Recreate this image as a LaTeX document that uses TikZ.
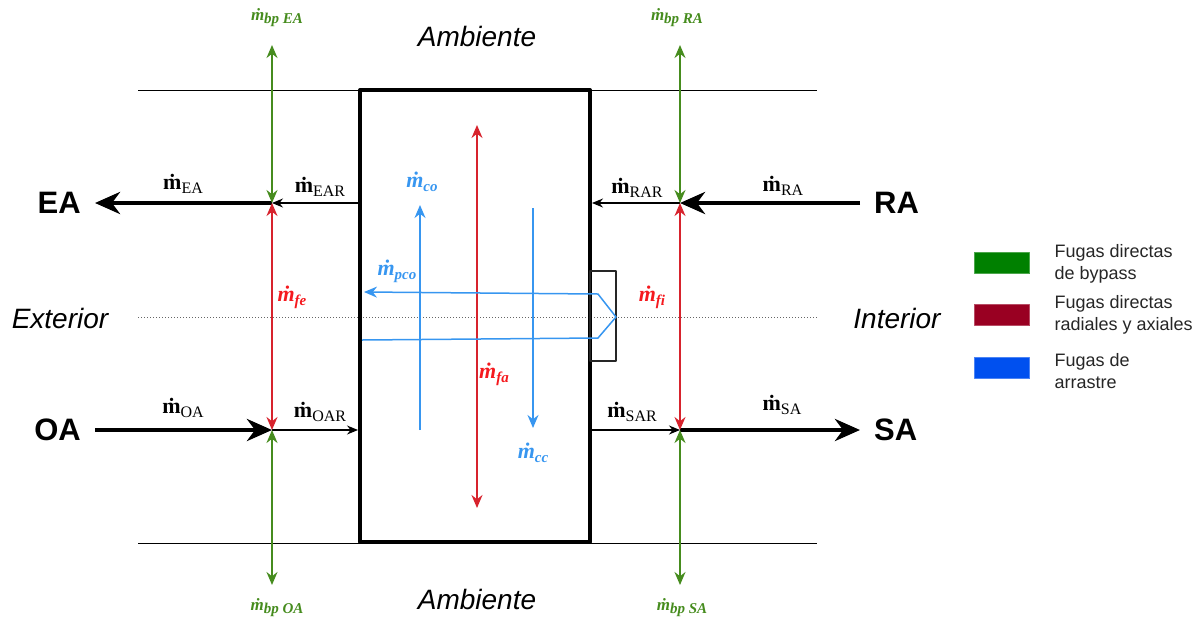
\documentclass[tikz,border=0pt]{standalone}
\usepackage{fontspec}
\setmainfont{Liberation Serif}
\setsansfont{Liberation Sans}
\usetikzlibrary{arrows.meta}
\definecolor{bpgreen}{RGB}{70,140,30}
\definecolor{lkred}{RGB}{215,35,45}
\definecolor{lkredtxt}{RGB}{245,25,30}
\definecolor{drblue}{RGB}{55,150,240}
\definecolor{leggreen}{RGB}{0,128,0}
\definecolor{legred}{RGB}{153,0,34}
\definecolor{legblue}{RGB}{0,80,239}
% mass flow with upright subscript / italic subscript
\newcommand{\mflow}[1]{\textbf{\.{m}}\raisebox{-.4ex}{\fontsize{16}{16}\selectfont #1}}
\newcommand{\mleak}[1]{\bfseries\itshape\.{m}\raisebox{-.4ex}{\fontsize{15}{15}\selectfont #1}}
\begin{document}
\begin{tikzpicture}[x=1pt, y=-1pt, line join=round, line cap=butt,
    >={Stealth[length=13pt,width=11pt]},
    port/.style={font=\fontsize{31}{31}\selectfont\sffamily\bfseries, inner xsep=14pt},
    main/.style={line width=4.5pt, -{Stealth[length=25pt,width=22pt,inset=8pt]}},
    flow/.style={line width=1.3pt, -{Stealth[length=11pt,width=9pt]}},
    bp/.style={bpgreen, line width=1.8pt, <->},
    leak/.style={lkred, line width=1.5pt, <->},
    drag/.style={drblue, line width=1.5pt, ->},
    flowlbl/.style={font=\fontsize{22}{22}\selectfont},
    zone/.style={font=\fontsize{28}{28}\selectfont\sffamily\itshape},
    legbox/.style={minimum width=55pt, minimum height=21pt, draw=#1!70!white, fill=#1},
    legtxt/.style={font=\fontsize{18}{22}\selectfont\sffamily, align=left, anchor=west, text=black!85}]
\useasboundingbox (0,0) rectangle (1202,622);

% ambient boundaries and the exterior/interior split
\draw[line width=1pt] (138,90) -- (817,90) (138,543) -- (817,543);
\draw[black!60, dotted, line width=1pt] (138,317) -- (817,317);

% rotor box and the seal on the interior side
\node[draw, line width=4pt, minimum width=230pt, minimum height=452pt, inner sep=0pt] (wheel) at (475,316) {};
\draw[black!85, line width=1.5pt] (590,271) rectangle (616,361);

% junctions
\path (272,203) coordinate(EAj) (272,430) coordinate(OAj)
      (680,203) coordinate(RAj) (680,430) coordinate(SAj)
      (272,45) coordinate(EAt) (272,585) coordinate(OAb)
      (680,45) coordinate(RAt) (680,585) coordinate(SAb);

% ports
\node[port, anchor=east] (EA) at (95,203) {EA};
\node[port, anchor=east] (OA) at (95,430) {OA};
\node[port, anchor=west] (RA) at (860,203) {RA};
\node[port, anchor=west] (SA) at (860,430) {SA};

\draw[main] (EAj) -- (EA);
\draw[main] (OA) -- (OAj);
\draw[main] (RA) -- (RAj);
\draw[main] (SAj) -- (SA);

\draw[flow] (EAj -| wheel.west) -- (EAj);
\draw[flow] (OAj) -- (OAj -| wheel.west);
\draw[flow] (RAj) -- (RAj -| wheel.east);
\draw[flow] (SAj -| wheel.east) -- (SAj);

% direct leakages
\draw[bp] (EAt) -- (EAj);
\draw[bp] (OAb) -- (OAj);
\draw[bp] (RAt) -- (RAj);
\draw[bp] (SAb) -- (SAj);
\draw[leak] (EAj) -- (OAj);
\draw[leak] (RAj) -- (SAj);
\draw[leak] (477,125) coordinate(fat) -- (477,508) coordinate(fab);

% carry-over
\draw[drag] (420,430) coordinate(cob) -- (420,205) coordinate(cot);
\draw[drag] (533,208) coordinate(cct) -- (533,428) coordinate(ccb);
\draw[drag] (362,340) -- (598,338) -- (616,317) -- (598,294) -- (364,292);

% labels
\foreach \n/\x/\y in {EA/183/184, EAR/320/187, RAR/637/188, RA/783/186,
                      OA/183/408, OAR/320/412, SAR/632/412, SA/782/405}
  \node[flowlbl] (m\n) at (\x,\y) {\mflow{\n}};
\foreach \n/\x/\y/\c in {fe/292/297/lkredtxt, fi/652/297/lkredtxt, fa/494/374/lkredtxt,
                         co/422/182/drblue, cc/533/453/drblue, pco/397/271/drblue}
  \node[flowlbl, text=\c] (m\n) at (\x,\y) {\mleak{\n}};
\foreach \n/\x/\y in {EA/277/18, RA/677/18, OA/277/608, SA/682/608}
  \node[text=bpgreen, font=\fontsize{17}{17}\selectfont] (bp\n) at (\x,\y) {\mleak{bp \n}};

\node[zone] (ambT) at (477,36) {Ambiente};
\node[zone] (ambB) at (477,599) {Ambiente};
\node[zone] (ext) at (60,318) {Exterior};
\node[zone] (int) at (897,318) {Interior};

% legend
\node[legbox=leggreen] (lg1) at (1002,263) {};
\node[legbox=legred] (lg2) at (1002,315) {};
\node[legbox=legblue] (lg3) at (1002,368) {};
\node[legtxt] (lt1) at (1051,264) {Fugas directas\\de bypass};
\node[legtxt] (lt2) at (1051,315) {Fugas directas\\radiales y axiales};
\node[legtxt] (lt3) at (1051,371) {Fugas de\\arrastre};
\end{tikzpicture}
\end{document}
